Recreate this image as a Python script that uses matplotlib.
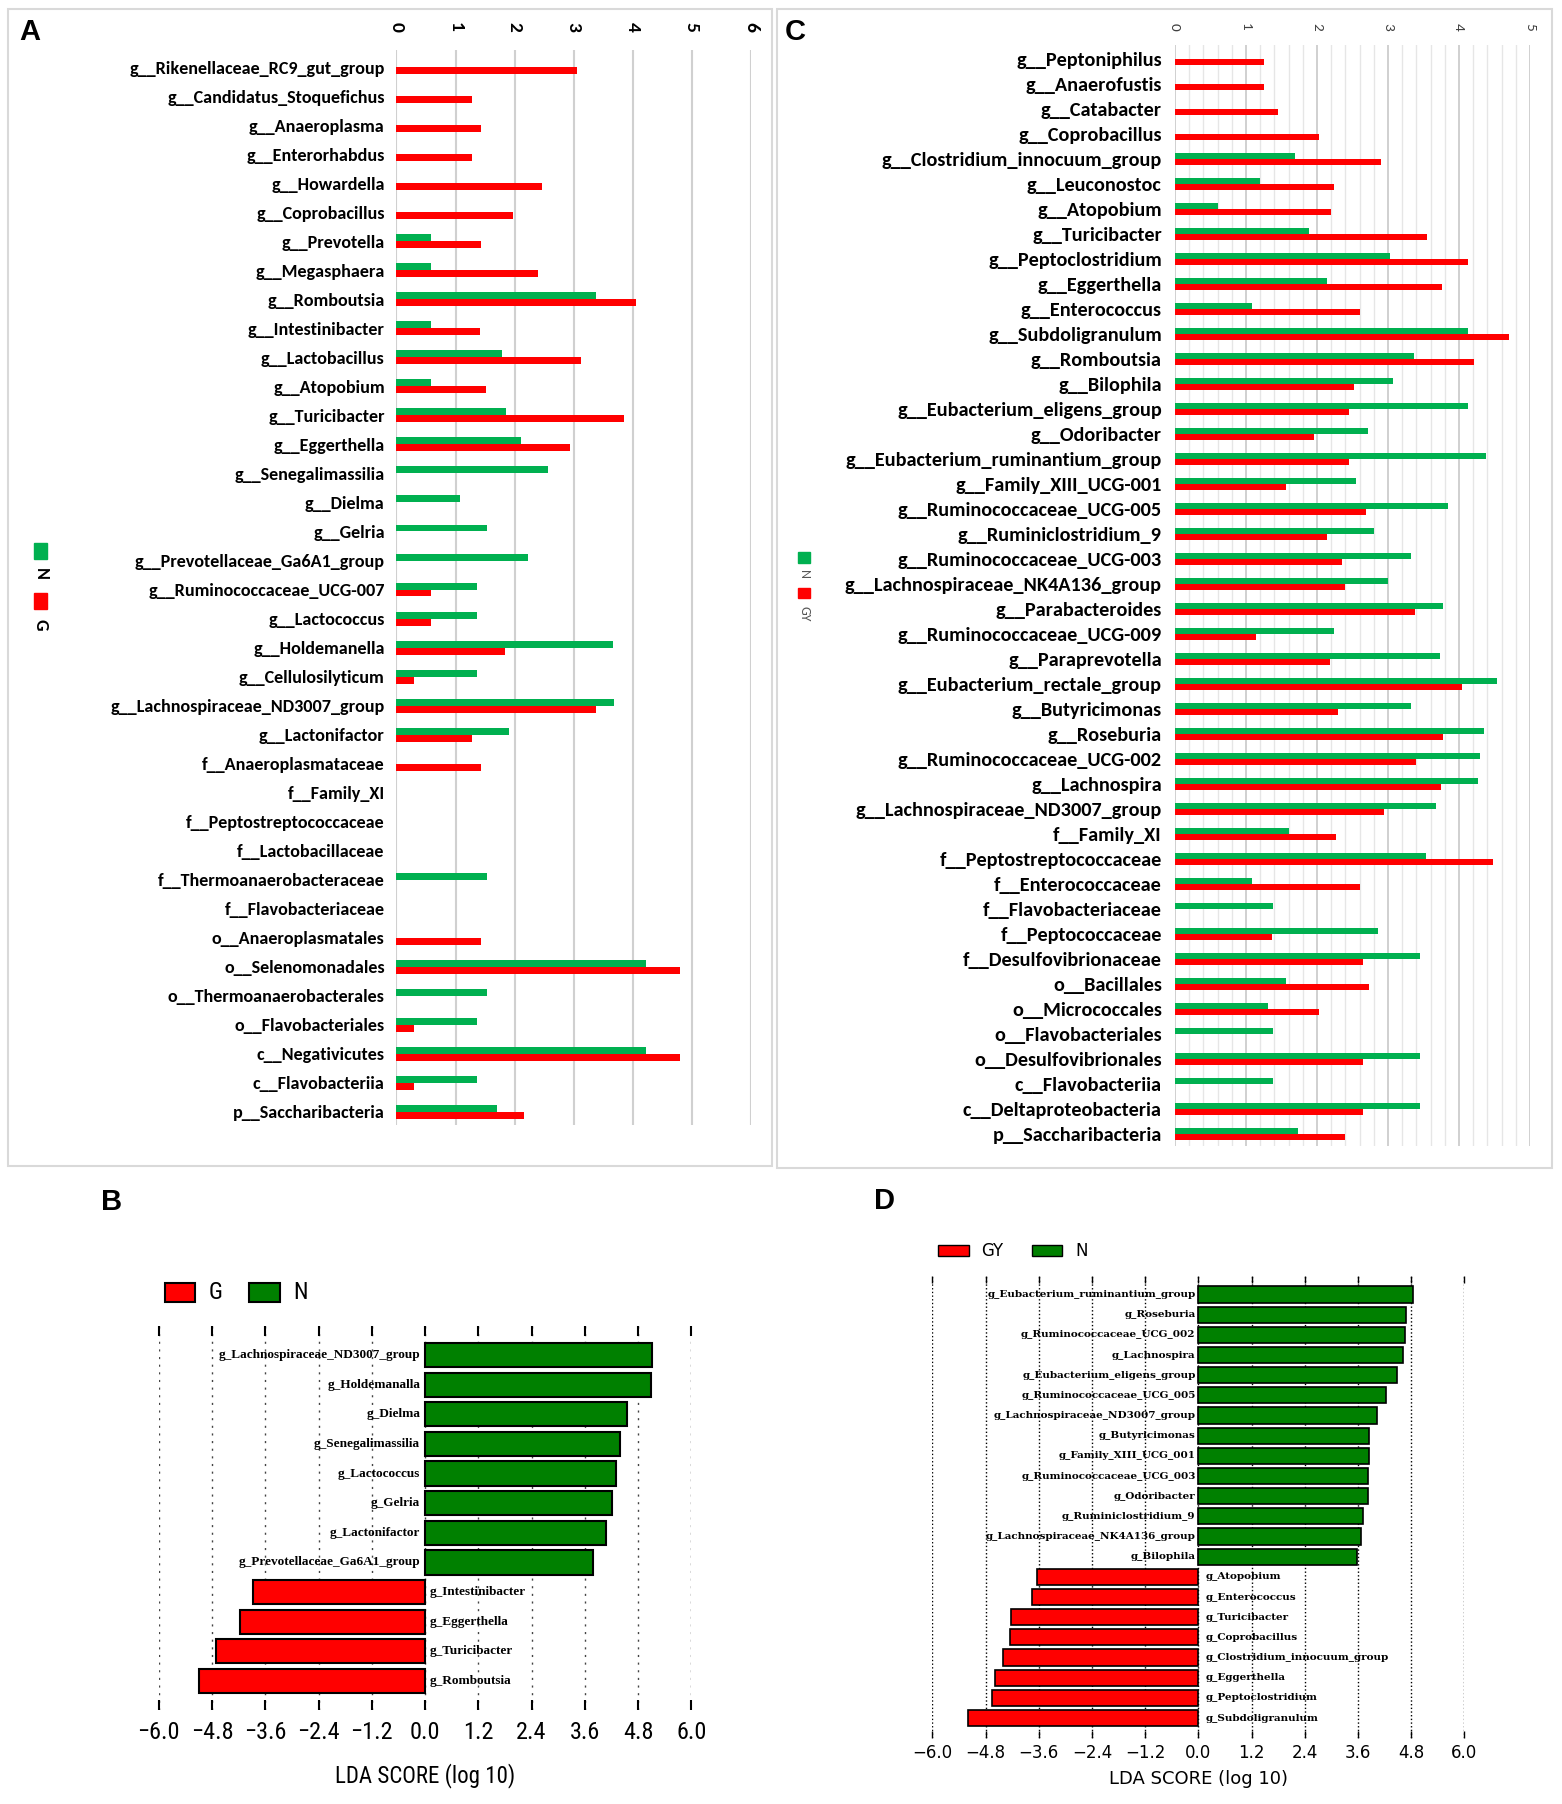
import numpy as np
import matplotlib
matplotlib.use('Agg')
import matplotlib.pyplot as plt
from matplotlib import font_manager
from matplotlib.patches import Rectangle
from matplotlib.ticker import FuncFormatter

# ---- panel A: LEfSe LDA bars, N vs G (Excel style) ----
A_TAXA = ['g__Rikenellaceae_RC9_gut_group', 'g__Candidatus_Stoquefichus', 'g__Anaeroplasma',
          'g__Enterorhabdus', 'g__Howardella', 'g__Coprobacillus', 'g__Prevotella',
          'g__Megasphaera', 'g__Romboutsia', 'g__Intestinibacter', 'g__Lactobacillus',
          'g__Atopobium', 'g__Turicibacter', 'g__Eggerthella', 'g__Senegalimassilia',
          'g__Dielma', 'g__Gelria', 'g__Prevotellaceae_Ga6A1_group', 'g__Ruminococcaceae_UCG-007',
          'g__Lactococcus', 'g__Holdemanella', 'g__Cellulosilyticum',
          'g__Lachnospiraceae_ND3007_group', 'g__Lactonifactor', 'f__Anaeroplasmataceae',
          'f__Family_XI', 'f__Peptostreptococcaceae', 'f__Lactobacillaceae',
          'f__Thermoanaerobacteraceae', 'f__Flavobacteriaceae', 'o__Anaeroplasmatales',
          'o__Selenomonadales', 'o__Thermoanaerobacterales', 'o__Flavobacteriales',
          'c__Negativicutes', 'c__Flavobacteriia', 'p__Saccharibacteria']
A_N = [0, 0, 0, 0, 0, 0, 0.59, 0.59, 3.37, 0.59, 1.79, 0.59, 1.86, 2.11, 2.57, 1.07, 1.54,
       2.22, 1.37, 1.37, 3.66, 1.37, 3.68, 1.91, 0, 0, 0, 0, 1.54, 0, 0, 4.22, 1.54, 1.37,
       4.22, 1.37, 1.70]
A_G = [3.05, 1.27, 1.43, 1.27, 2.47, 1.97, 1.43, 2.40, 4.06, 1.41, 3.12, 1.52, 3.85, 2.94, 0,
       0, 0, 0, 0.59, 0.59, 1.83, 0.30, 3.37, 1.27, 1.43, 0, 0, 0, 0, 0, 1.43, 4.80, 0, 0.30,
       4.80, 0.30, 2.16]

# ---- panel C: N vs GY ----
C_TAXA = ['g__Peptoniphilus', 'g__Anaerofustis', 'g__Catabacter', 'g__Coprobacillus',
          'g__Clostridium_innocuum_group', 'g__Leuconostoc', 'g__Atopobium', 'g__Turicibacter',
          'g__Peptoclostridium', 'g__Eggerthella', 'g__Enterococcus', 'g__Subdoligranulum',
          'g__Romboutsia', 'g__Bilophila', 'g__Eubacterium_eligens_group', 'g__Odoribacter',
          'g__Eubacterium_ruminantium_group', 'g__Family_XIII_UCG-001',
          'g__Ruminococcaceae_UCG-005', 'g__Ruminiclostridium_9', 'g__Ruminococcaceae_UCG-003',
          'g__Lachnospiraceae_NK4A136_group', 'g__Parabacteroides', 'g__Ruminococcaceae_UCG-009',
          'g__Paraprevotella', 'g__Eubacterium_rectale_group', 'g__Butyricimonas',
          'g__Roseburia', 'g__Ruminococcaceae_UCG-002', 'g__Lachnospira',
          'g__Lachnospiraceae_ND3007_group', 'f__Family_XI', 'f__Peptostreptococcaceae',
          'f__Enterococcaceae', 'f__Flavobacteriaceae', 'f__Peptococcaceae',
          'f__Desulfovibrionaceae', 'o__Bacillales', 'o__Micrococcales', 'o__Flavobacteriales',
          'o__Desulfovibrionales', 'c__Flavobacteriia', 'c__Deltaproteobacteria',
          'p__Saccharibacteria']
C_N = [0, 0, 0, 0, 1.69, 1.20, 0.60, 1.89, 3.03, 2.14, 1.08, 4.13, 3.36, 3.07, 4.13, 2.72,
       4.38, 2.55, 3.84, 2.80, 3.33, 3.00, 3.78, 2.24, 3.73, 4.53, 3.32, 4.35, 4.29, 4.27,
       3.68, 1.60, 3.54, 1.08, 1.38, 2.86, 3.45, 1.56, 1.31, 1.38, 3.45, 1.38, 3.45, 1.73]
C_GY = [1.25, 1.25, 1.45, 2.03, 2.90, 2.24, 2.20, 3.55, 4.13, 3.76, 2.60, 4.71, 4.21, 2.52,
        2.45, 1.96, 2.45, 1.57, 2.69, 2.14, 2.35, 2.39, 3.38, 1.14, 2.18, 4.04, 2.29, 3.78,
        3.40, 3.74, 2.94, 2.27, 4.48, 2.60, 0, 1.37, 2.65, 2.73, 2.03, 0, 2.65, 0, 2.65, 2.39]

# ---- panel B: LDA scores G vs N ----
B_TAXA = ['g_Lachnospiraceae_ND3007_group', 'g_Holdemanalla', 'g_Dielma', 'g_Senegalimassilia',
          'g_Lactococcus', 'g_Gelria', 'g_Lactonifactor', 'g_Prevotellaceae_Ga6A1_group',
          'g_Intestinibacter', 'g_Eggerthella', 'g_Turicibacter', 'g_Romboutsia']
B_LDA = [5.11, 5.10, 4.56, 4.40, 4.29, 4.22, 4.07, 3.79, -3.87, -4.18, -4.71, -5.09]

# ---- panel D: LDA scores GY vs N ----
D_TAXA = ['g_Eubacterium_ruminantium_group', 'g_Roseburia', 'g_Ruminococcaceae_UCG_002',
          'g_Lachnospira', 'g_Eubacterium_eligens_group', 'g_Ruminococcaceae_UCG_005',
          'g_Lachnospiraceae_ND3007_group', 'g_Butyricimonas', 'g_Family_XIII_UCG_001',
          'g_Ruminococcaceae_UCG_003', 'g_Odoribacter', 'g_Ruminiclostridium_9',
          'g_Lachnospiraceae_NK4A136_group', 'g_Bilophila', 'g_Atopobium', 'g_Enterococcus',
          'g_Turicibacter', 'g_Coprobacillus', 'g_Clostridium_innocuum_group', 'g_Eggerthella',
          'g_Peptoclostridium', 'g_Subdoligranulum']
D_LDA = [4.85, 4.69, 4.65, 4.61, 4.49, 4.24, 4.03, 3.84, 3.84, 3.82, 3.82, 3.72, 3.66, 3.57,
         -3.65, -3.76, -4.22, -4.24, -4.41, -4.58, -4.65, -5.19]

LDA_TICKS = [-6.0, -4.8, -3.6, -2.4, -1.2, 0.0, 1.2, 2.4, 3.6, 4.8, 6.0]

EXCEL_GREEN = '#00B050'
RED = '#FF0000'
DARK_GREEN = '#008000'
BOX_GREY = '#d9d9d9'

W, H = 1562, 1804

names = {f.name for f in font_manager.fontManager.ttflist}


def pick(*cands):
    for c in cands:
        if c in names:
            return c
    return 'DejaVu Sans'


CALIBRI = pick('Carlito', 'Lato')           # excel panels
ARIAL = pick('Liberation Sans', 'DejaVu Sans')
NARROW = pick('Roboto Condensed', 'Archivo Narrow', 'PT Sans Narrow', 'Liberation Sans')
SERIF = pick('Liberation Serif', 'DejaVu Serif')

fig = plt.figure(figsize=(W / 100, H / 100), dpi=100)


def px_axes(left, top, right, bottom):
    return fig.add_axes([left / W, 1 - bottom / H, (right - left) / W, (bottom - top) / H])


def fig_text(x, y, s, **kw):
    fig.text(x / W, 1 - y / H, s, **kw)


def fig_rect(x0, y0, x1, y1, **kw):
    fig.add_artist(Rectangle((x0 / W, 1 - y1 / H), (x1 - x0) / W, (y1 - y0) / H,
                             transform=fig.transFigure, **kw))


def excel_panel(ax, taxa, green, red, xmax, fsize, pad, tick_kw):
    y = np.arange(len(taxa))
    ax.barh(y - 0.12, green, height=0.24, color=EXCEL_GREEN, zorder=3)
    ax.barh(y + 0.12, red, height=0.24, color=RED, zorder=3)
    ax.set_xlim(0, xmax)
    ax.set_xticks(range(xmax + 1))
    ax.xaxis.tick_top()
    ax.set_yticks(y)
    ax.set_yticklabels(taxa, family=CALIBRI, fontweight='bold', fontsize=fsize)
    ax.tick_params(axis='y', length=0, pad=pad)
    ax.tick_params(axis='x', length=0, labelfontfamily=CALIBRI, **tick_kw)
    for lab in ax.get_xticklabels():
        lab.set_rotation(-90)
    for s in ax.spines.values():
        s.set_visible(False)
    ax.set_axisbelow(True)


# panel A
axA = px_axes(396.5, 50, 751, 1125)
excel_panel(axA, A_TAXA, A_N, A_G, 6, 13.1, 8.5, dict(pad=13, labelsize=14))
for lab in axA.get_xticklabels():
    lab.set_fontweight('bold')
axA.set_ylim(36.45, -0.59)
axA.grid(axis='x', color='#d0d0d0', lw=1.5)
fig_rect(8, 9, 772, 1166, fill=False, edgecolor=BOX_GREY, lw=1.5)
fig_text(30, 32, 'A', fontsize=21, fontweight='bold', ha='center', va='center', family=ARIAL)
fig_rect(34, 543, 47, 559, color=EXCEL_GREEN)
fig_text(40.5, 574, 'N', rotation=-90, ha='center', va='center', fontsize=13,
         fontweight='bold', family=CALIBRI)
fig_rect(34, 593, 47, 609, color=RED)
fig_text(40.5, 625, 'G', rotation=-90, ha='center', va='center', fontsize=13,
         fontweight='bold', family=CALIBRI)

# panel C
axC = px_axes(1175, 45, 1530, 1146)
excel_panel(axC, C_TAXA, C_N, C_GY, 5, 14.6, 9.5,
            dict(pad=10, labelsize=11, labelcolor='#404040'))
axC.set_ylim(43.48, -0.54)
axC.set_xticks(np.arange(0, 5.01, 0.2), minor=True)
axC.tick_params(axis='x', which='minor', length=0)
axC.grid(axis='x', which='minor', color='#e6e6e6', lw=1)
axC.grid(axis='x', which='major', color='#c8c8c8', lw=1.2)
fig_rect(777, 9, 1552, 1168, fill=False, edgecolor=BOX_GREY, lw=1.5)
fig_text(795, 32, 'C', fontsize=21, fontweight='bold', ha='center', va='center', family=ARIAL)
fig_rect(798, 552, 810, 563, color=EXCEL_GREEN)
fig_text(804, 574, 'N', rotation=-90, ha='center', va='center', fontsize=10,
         color='#555555', family=CALIBRI)
fig_rect(798, 588, 810, 598, color=RED)
fig_text(804, 614, 'GY', rotation=-90, ha='center', va='center', fontsize=10,
         color='#555555', family=CALIBRI)


def lda_panel(ax, taxa, lda, bar_h, edge_lw, lab_font, lab_size, lab_off,
              tick_len, tick_w, tick_font, tick_size, tick_pad, grid_kw):
    y = np.arange(len(taxa))
    colors = [DARK_GREEN if v > 0 else RED for v in lda]
    ax.barh(y, lda, height=bar_h, color=colors, edgecolor='black', lw=edge_lw, zorder=3)
    for yi, v, name in zip(y, lda, taxa):
        if v > 0:
            ax.annotate(name, (0, yi), xytext=(-lab_off[0], 0), textcoords='offset points',
                        ha='right', va='center', family=lab_font, fontweight='bold',
                        fontsize=lab_size, zorder=4)
        else:
            ax.annotate(name, (0, yi), xytext=(lab_off[1], 0), textcoords='offset points',
                        ha='left', va='center', family=lab_font, fontweight='bold',
                        fontsize=lab_size, zorder=4)
    ax.set_xlim(-6, 6)
    ax.set_xticks(LDA_TICKS)
    ax.xaxis.set_major_formatter(FuncFormatter(lambda v, p: f'{v:.1f}'.replace('-', '\u2212')))
    ax.set_yticks([])
    ax.tick_params(axis='x', direction='in', top=True, bottom=True, length=tick_len,
                   width=tick_w, pad=tick_pad, labelsize=tick_size, labelfontfamily=tick_font)
    for s in ax.spines.values():
        s.set_visible(False)
    ax.grid(axis='x', zorder=0, **grid_kw)
    ax.set_axisbelow(True)


# panel B
axB = px_axes(158.8, 1326, 691.4, 1710)
lda_panel(axB, B_TAXA, B_LDA, 0.82, 1.5, SERIF, 9.5, (3.5, 3.5),
          7, 1.5, NARROW, 17.5, 8, dict(color='#444444', lw=1, ls=(0, (1.5, 4))))
axB.set_ylim(11.98, -0.98)
axB.set_xlabel('LDA SCORE (log 10)', family=NARROW, fontsize=16.5, labelpad=14)
fig_text(112, 1202, 'B', fontsize=21, fontweight='bold', ha='center', va='center', family=ARIAL)
fig_rect(164.5, 1283, 195.5, 1302, facecolor=RED, edgecolor='black', lw=1.5)
fig_text(209, 1292.5, 'G', ha='left', va='center', fontsize=17, family=NARROW)
fig_rect(248.6, 1283, 279.6, 1302, facecolor=DARK_GREEN, edgecolor='black', lw=1.5)
fig_text(293, 1292.5, 'N', ha='left', va='center', fontsize=17, family=NARROW)

# panel D
axD = px_axes(932.4, 1276, 1464.4, 1738)
lda_panel(axD, D_TAXA, D_LDA, 0.8, 1.2, 'DejaVu Serif', 7.5, (2, 5),
          5, 1, 'DejaVu Sans', 12, 4, dict(color='black', lw=1, ls=':'))
axD.set_ylim(21.99, -0.92)
axD.set_xlabel('LDA SCORE (log 10)', fontsize=13, labelpad=6)
fig_text(884.6, 1201, 'D', fontsize=21, fontweight='bold', ha='center', va='center', family=ARIAL)
fig_rect(938, 1245, 969, 1256, facecolor=RED, edgecolor='black', lw=1)
fig_text(981, 1250.5, 'GY', ha='left', va='center', fontsize=12)
fig_rect(1031.5, 1245, 1062, 1256, facecolor=DARK_GREEN, edgecolor='black', lw=1)
fig_text(1075, 1250.5, 'N', ha='left', va='center', fontsize=12)

fig.savefig('out.png', dpi=100)
